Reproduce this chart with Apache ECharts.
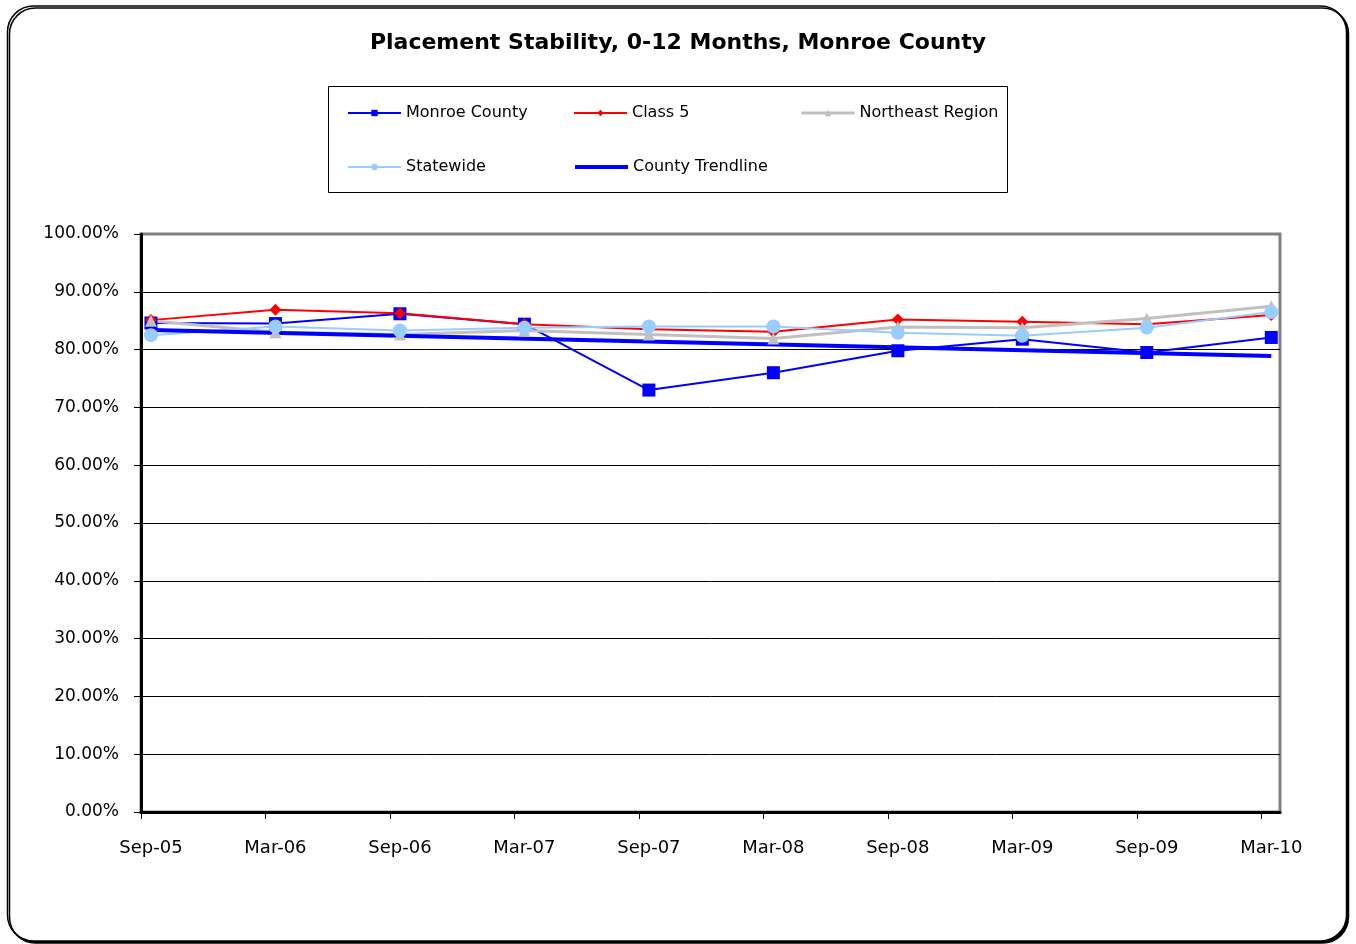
<!DOCTYPE html>
<html>
<head>
<meta charset="utf-8">
<title>Placement Stability, 0-12 Months, Monroe County</title>
<script src="https://cdn.jsdelivr.net/npm/echarts@6/dist/echarts.min.js"></script>
<style>
  html, body { margin: 0; padding: 0; background: #fff; }
  #chart { width: 1356px; height: 944px; }
</style>
</head>
<body>
<div id="chart"></div>
<script>
// 数据（从原图读出的估计值，单位 %）
const categories = ["Sep-05", "Mar-06", "Sep-06", "Mar-07", "Sep-07", "Mar-08", "Sep-08", "Mar-09", "Sep-09", "Mar-10"];
const monroeCounty = [84.6, 84.5, 86.2, 84.4, 73.0, 76.0, 79.8, 81.8, 79.5, 82.1];
const class5 = [85.1, 86.9, 86.3, 84.4, 83.5, 83.1, 85.2, 84.8, 84.4, 86.0];
const northeastRegion = [85.0, 83.0, 82.6, 83.3, 82.6, 81.9, 83.9, 83.8, 85.4, 87.5];
const statewide = [82.5, 84.0, 83.3, 83.8, 84.0, 84.0, 82.9, 82.4, 83.8, 86.5];
// 趋势线只有两个端点（首、末期）
const trendIdx = [0, 9];
const trendValues = [83.4, 78.9];

const FONT = "DejaVu Sans";
const pairs = (vals) => vals.map((v, i) => [i, v]);

const chart = echarts.init(document.getElementById("chart"));

function lineSeries(name, vals, color, symbol, size, width) {
  return {
    name, type: "line", data: pairs(vals),
    symbol, symbolSize: size,
    lineStyle: { color, width },
    itemStyle: { color },
    emphasis: { disabled: true },
  };
}

// 图例：Excel 式 3 列网格，每项一个 legend 组件，外框用 graphic 画
const legendSlots = [
  { name: "Monroe County", left: 347, top: 105, width: 2 },
  { name: "Class 5", left: 573, top: 105, width: 2 },
  { name: "Northeast Region", left: 800, top: 105, width: 3 },
  { name: "Statewide", left: 347, top: 159, width: 2 },
  { name: "County Trendline", left: 573, top: 159, width: 4, noSymbol: true },
];
const legends = legendSlots.map(s => ({
  left: s.left, top: s.top, padding: 0,
  itemWidth: 53, itemHeight: 8, selectedMode: false,
  textStyle: { fontFamily: FONT, fontSize: 16, color: "#000" },
  data: [{ name: s.name, lineStyle: { width: s.width }, ...(s.noSymbol ? { itemStyle: { opacity: 0 } } : {}) }],
}));

chart.setOption({
  backgroundColor: "#fff",
  animation: false,
  title: {
    text: "Placement Stability, 0-12 Months, Monroe County",
    left: "center", top: 27,
    textStyle: { fontFamily: FONT, fontWeight: "bold", fontSize: 22, color: "#000" },
  },
  graphic: [
    {
      type: "rect", z: -10, silent: true,
      shape: { x: 7.5, y: 6, width: 1339, height: 935, r: 26 },
      style: { fill: "#fff", stroke: "#000", lineWidth: 1.5, shadowColor: "#000", shadowOffsetX: 2, shadowOffsetY: 2, shadowBlur: 0 },
    },
    {
      type: "rect", z: -5, silent: true,
      shape: { x: 328.5, y: 86.5, width: 679, height: 106 },
      style: { fill: "#fff", stroke: "#000", lineWidth: 1 },
    },
  ],
  legend: legends,
  grid: {
    left: 141, right: 76, top: 234, bottom: 132,
    show: true, borderColor: "#808080", borderWidth: 3, backgroundColor: "transparent",
  },
  xAxis: {
    type: "value", min: -0.08, max: 9.07,
    axisLine: { onZero: false, lineStyle: { color: "#000", width: 3 } },
    axisTick: { show: true, length: 7, lineStyle: { color: "#000", width: 1 },
                customValues: categories.map((c, i) => i - 0.08) },
    axisLabel: { customValues: categories.map((c, i) => i), margin: 27,
                 formatter: (v) => categories[Math.round(v)],
                 fontFamily: FONT, fontSize: 18, color: "#000" },
    splitLine: { show: false },
  },
  yAxis: {
    type: "value", min: 0, max: 100, interval: 10,
    axisLine: { show: true, onZero: false, lineStyle: { color: "#000", width: 3 } },
    axisTick: { show: true, length: 7, lineStyle: { color: "#000", width: 1 } },
    axisLabel: { margin: 22, formatter: (v) => v.toFixed(2) + "%",
                 fontFamily: FONT, fontSize: 17, color: "#000" },
    splitLine: { show: true, showMinLine: false, showMaxLine: false, lineStyle: { color: "#000", width: 1 } },
  },
  series: [
    lineSeries("Monroe County", monroeCounty, "#0000ff", "rect", 13, 2),
    lineSeries("Class 5", class5, "#ff0000", "diamond", 12, 2),
    lineSeries("Northeast Region", northeastRegion, "#c0c0c0", "triangle", 12, 3),
    lineSeries("Statewide", statewide, "#99ccff", "circle", 14, 2),
    {
      name: "County Trendline", type: "line",
      data: trendIdx.map((x, k) => [x, trendValues[k]]),
      symbol: "none", lineStyle: { color: "#0000ff", width: 4 }, itemStyle: { color: "#0000ff" },
      emphasis: { disabled: true },
    },
  ],
});
</script>
</body>
</html>
